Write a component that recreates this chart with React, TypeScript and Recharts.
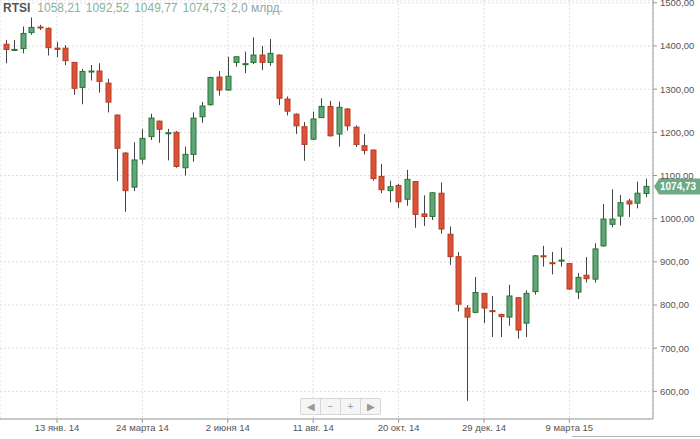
import {
  ComposedChart,
  Bar,
  XAxis,
  YAxis,
  CartesianGrid,
  ReferenceLine,
} from "recharts";

// weekly RTSI candles, starting 2 Dec 2013
const OPEN = [
  1404, 1390, 1394, 1431, 1444, 1441, 1395, 1395, 1362, 1304, 1340, 1342, 1314, 1240, 1152, 1073,
  1138, 1190, 1226, 1197, 1200, 1118, 1149, 1236, 1264, 1328, 1298, 1362, 1357, 1362, 1379, 1362,
  1379, 1277, 1242, 1213, 1184, 1234, 1260, 1196, 1254, 1212, 1169, 1159, 1098, 1065, 1077, 1045,
  1086, 1011, 1005, 1059, 964, 912, 793, 783, 827, 787, 778, 772, 817, 758, 831, 914,
  898, 902, 896, 830, 869, 860, 937, 987, 1006, 1041, 1036, 1058.21,
];
const HIGH = [
  1414, 1414, 1445, 1466, 1449, 1443, 1409, 1402, 1363, 1347, 1356, 1360, 1324, 1241, 1154, 1177,
  1208, 1243, 1227, 1208, 1203, 1167, 1246, 1270, 1329, 1342, 1375, 1376, 1387, 1420, 1400, 1416,
  1380, 1283, 1244, 1224, 1248, 1279, 1273, 1271, 1256, 1216, 1196, 1160, 1127, 1088, 1081, 1113,
  1087, 1054, 1061, 1084, 982, 923, 800, 865, 828, 821, 780, 847, 818, 834, 916, 937,
  923, 933, 897, 874, 911, 943, 1034, 1068, 1055, 1046, 1086, 1092.52,
];
const LOW = [
  1360, 1389, 1383, 1426, 1437, 1378, 1374, 1356, 1287, 1265, 1320, 1292, 1246, 1087, 1016, 1064,
  1127, 1182, 1176, 1135, 1118, 1100, 1132, 1222, 1262, 1285, 1296, 1352, 1337, 1358, 1344, 1354,
  1263, 1239, 1196, 1134, 1182, 1233, 1190, 1167, 1204, 1166, 1149, 1088, 1059, 1038, 1025, 1030,
  979, 983, 997, 965, 893, 785, 578, 781, 758, 726, 726, 752, 722, 726, 824, 889,
  871, 889, 835, 814, 852, 852, 935, 980, 984, 1004, 1024, 1049.77,
];
const CLOSE = [
  1392, 1392, 1429, 1443, 1442, 1396, 1392, 1366, 1302, 1341, 1342, 1318, 1270, 1163, 1065, 1136,
  1186, 1233, 1207, 1199, 1121, 1149, 1233, 1261, 1327, 1298, 1330, 1375, 1359, 1379, 1362, 1383,
  1279, 1249, 1215, 1172, 1231, 1260, 1192, 1258, 1215, 1172, 1158, 1093, 1067, 1074, 1039, 1091,
  1010, 1005, 1060, 976, 912, 802, 772, 829, 793, 785, 773, 821, 742, 827, 914, 912,
  896, 904, 837, 864, 861, 930, 999, 999, 1037, 1034, 1059, 1074.73,
];

const TICK_WEEKS = [6, 16, 26, 36, 46, 56, 66];
const TICK_LABELS = [
  "13 янв. 14",
  "24 марта 14",
  "2 июня 14",
  "11 авг. 14",
  "20 окт. 14",
  "29 дек. 14",
  "9 марта 15",
];
const Y_TICKS = [600, 700, 800, 900, 1000, 1100, 1200, 1300, 1400, 1500];
const HEADER_VALUES = ["1058,21", "1092,52", "1049,77", "1074,73"];
const VOLUME = "2,0 млрд.";

const FONT = '"Liberation Sans", Arial, sans-serif';

const data = OPEN.map((open, i) => ({
  week: i,
  open,
  high: HIGH[i],
  low: LOW[i],
  close: CLOSE[i],
  range: [LOW[i], HIGH[i]],
}));

const fmt = (v: number) => v.toFixed(2).replace(".", ",");

const Candle = (props: any) => {
  const { x, y, width, height, payload } = props;
  if (!payload) return null;
  const { open, close, high, low } = payload;
  const top = Math.min(y, y + height);
  const h = Math.abs(height);
  const ratio = h / (high - low);
  const yOf = (v: number) => top + (high - v) * ratio;
  const up = close >= open;
  const cx = Math.round(x + width / 2) + 0.5;
  const bTop = yOf(Math.max(open, close));
  const bH = Math.max(yOf(Math.min(open, close)) - bTop, 1);
  return (
    <g>
      <line x1={cx} x2={cx} y1={top} y2={top + h} stroke="#444" strokeWidth={1} />
      <rect
        x={cx - 2.5}
        y={bTop}
        width={5}
        height={bH}
        fill={up ? "#62a57c" : "#db5239"}
        stroke={up ? "#23772f" : "#b83d22"}
        strokeWidth={1}
      />
    </g>
  );
};

const PriceTag = (props: any) => {
  const vb = props.viewBox;
  if (!vb) return null;
  const x0 = vb.x + vb.width + 1;
  const y = vb.y;
  return (
    <g>
      <polygon
        points={`${x0},${y} ${x0 + 5},${y - 8} ${x0 + 47},${y - 8} ${x0 + 47},${y + 8} ${x0 + 5},${y + 8}`}
        fill="#6fa985"
      />
      <text x={x0 + 6} y={y + 3.5} fill="#fff" fontSize={10} fontWeight="bold" fontFamily={FONT}>
        {fmt(CLOSE[CLOSE.length - 1])}
      </text>
    </g>
  );
};

const navBtn = {
  display: "inline-block",
  width: 19,
  height: 15,
  lineHeight: "15px",
  textAlign: "center" as const,
  color: "#999",
  fontSize: 10,
  borderLeft: "1px solid #d6d6d6",
};

export default function App() {
  return (
    <div
      style={{
        position: "absolute",
        left: 0,
        top: 0,
        width: 700,
        height: 439,
        background: "#fff",
        fontFamily: FONT,
        overflow: "hidden",
      }}
    >
      <ComposedChart
        width={700}
        height={439}
        data={data}
        margin={{ top: 0, right: 0, bottom: 0, left: 0 }}
      >
        <CartesianGrid strokeDasharray="2 2" stroke="#dedede" />
        <XAxis
          dataKey="week"
          type="category"
          ticks={TICK_WEEKS}
          interval={0}
          tickFormatter={(v: number) => TICK_LABELS[TICK_WEEKS.indexOf(v)] ?? ""}
          padding={{ left: 1.5, right: 2.5 }}
          height={20}
          tickSize={4}
          tickMargin={1}
          axisLine={{ stroke: "#999" }}
          tickLine={{ stroke: "#999" }}
          tick={{ fontSize: 9.5, fill: "#555", fontFamily: FONT }}
        />
        <YAxis
          orientation="right"
          width={47}
          domain={[536, 1506.5]}
          allowDataOverflow
          ticks={Y_TICKS}
          interval={0}
          tickFormatter={fmt}
          tickSize={4}
          tickMargin={3}
          axisLine={{ stroke: "#999" }}
          tickLine={{ stroke: "#999" }}
          tick={{ fontSize: 9.5, fill: "#555", fontFamily: FONT }}
        />
        <Bar dataKey="range" barSize={6} shape={<Candle />} isAnimationActive={false} />
        <ReferenceLine y={CLOSE[CLOSE.length - 1]} stroke="none" label={<PriceTag />} />
      </ComposedChart>

      <div style={{ position: "absolute", left: 3, top: 1, fontSize: 12, whiteSpace: "nowrap" }}>
        <span style={{ fontWeight: "bold", color: "#555", marginRight: 7 }}>RTSI</span>
        {HEADER_VALUES.map((v) => (
          <span key={v} style={{ color: "#86b49a", marginRight: 5 }}>
            {v}
          </span>
        ))}
        <span style={{ color: "#8fa6ad" }}>{VOLUME}</span>
      </div>

      <div
        style={{
          position: "absolute",
          left: 300,
          top: 398,
          height: 15,
          border: "1px solid #d6d6d6",
          borderRadius: 2,
          background: "#f5f5f5",
          display: "flex",
        }}
      >
        <span style={{ ...navBtn, borderLeft: "none" }}>◀</span>
        <span style={navBtn}>−</span>
        <span style={navBtn}>+</span>
        <span style={navBtn}>▶</span>
      </div>

      <div
        style={{
          position: "absolute",
          left: 572,
          top: 436,
          width: 128,
          height: 0,
          borderTop: "1px solid #b5b5b5",
        }}
      />
    </div>
  );
}
